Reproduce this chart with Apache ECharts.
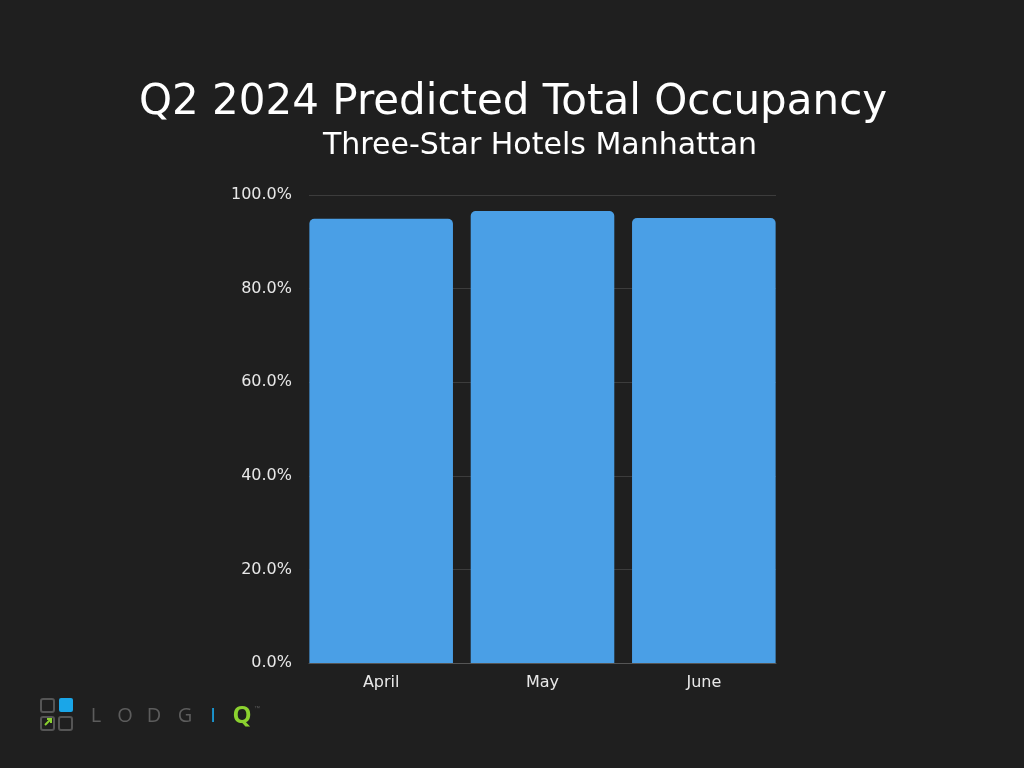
<!DOCTYPE html>
<html><head><meta charset="utf-8">
<script src="https://cdn.jsdelivr.net/npm/echarts@6/dist/echarts.min.js"></script>
<style>html,body{margin:0;padding:0;background:#1f1f1f;}#c{width:1024px;height:768px;}</style>
</head><body><div id="c"></div>
<script>
const categories = ['April', 'May', 'June'];
const occupancy = [94.9, 96.6, 95.1];
const yTicks = [0, 20, 40, 60, 80, 100];
const titleText = 'Q2 2024 Predicted Total Occupancy';
const subtitleText = 'Three-Star Hotels Manhattan';
const logoLetters = ['L', 'O', 'D', 'G', 'I', 'Q'];

const chart = echarts.init(document.getElementById('c'));
const font = '"DejaVu Sans", "Open Sans", sans-serif';
const logoX = [96, 125, 154, 185, 213, 242];
const logoColors = ['#5c5c5c', '#5c5c5c', '#5c5c5c', '#5c5c5c', '#1aa6e8', '#8bd12f'];
chart.setOption({
  backgroundColor: '#1f1f1f',
  animation: false,
  title: [
    { text: titleText, left: 508, textAlign: 'center', top: 77, textStyle: { color: '#ffffff', fontSize: 42, fontWeight: 'normal', fontFamily: font } },
    { text: subtitleText, left: 535, textAlign: 'center', top: 126, textStyle: { color: '#ffffff', fontSize: 30, fontWeight: 'normal', fontFamily: font } }
  ],
  grid: [
    { left: 309, right: 248, top: 195, bottom: 105 },
    { left: 300.5, right: 239.5, top: 195, bottom: 105 }
  ],
  xAxis: [
    { type: 'category', gridIndex: 0, data: categories, z: 5,
      axisLine: { lineStyle: { color: '#555555', width: 1 } }, axisTick: { show: false }, axisLabel: { show: false } },
    { type: 'category', gridIndex: 1, data: categories, barCategoryGap: '11%',
      axisLine: { show: false }, axisTick: { show: false },
      axisLabel: { color: '#e8e8e8', fontSize: 16, fontFamily: font, margin: 12 } }
  ],
  yAxis: [
    { type: 'value', gridIndex: 0, min: 0, max: 100, interval: 20,
      axisLine: { show: false }, axisTick: { show: false },
      splitLine: { lineStyle: { color: '#3c3c3c', width: 1 } },
      axisLabel: { color: '#e8e8e8', fontSize: 16, fontFamily: font, margin: 17,
        formatter: v => yTicks.includes(v) ? v.toFixed(1) + '%' : '' } },
    { type: 'value', gridIndex: 1, min: 0, max: 100, interval: 20, show: false, splitLine: { show: false } }
  ],
  series: [{
    type: 'bar', xAxisIndex: 1, yAxisIndex: 1, data: occupancy, barCategoryGap: '11%',
    itemStyle: { color: '#4a9fe6', borderRadius: [5, 5, 0, 0] }
  }],
  graphic: [
    { type: 'rect', shape: { x: 41, y: 699, width: 13, height: 13, r: 2 }, style: { fill: 'none', stroke: '#555555', lineWidth: 2 } },
    { type: 'rect', shape: { x: 59, y: 698, width: 14, height: 14, r: 2 }, style: { fill: '#1aa6e8' } },
    { type: 'rect', shape: { x: 41, y: 717, width: 13, height: 13, r: 2 }, style: { fill: 'none', stroke: '#555555', lineWidth: 2 } },
    { type: 'rect', shape: { x: 59, y: 717, width: 13, height: 13, r: 2 }, style: { fill: 'none', stroke: '#555555', lineWidth: 2 } },
    { type: 'polyline', shape: { points: [[45, 725], [51, 719]] }, style: { stroke: '#8bd12f', lineWidth: 2 } },
    { type: 'polyline', shape: { points: [[47, 719], [51, 719], [51, 723]] }, style: { stroke: '#8bd12f', lineWidth: 2, fill: 'none' } },
    ...logoLetters.map((ch, i) => ({
      type: 'text', x: logoX[i], y: 716,
      style: { text: ch, fill: logoColors[i], font: (i === 5 ? 'bold 24px ' : '20px ') + '"Open Sans", sans-serif', align: 'center', verticalAlign: 'middle' }
    })),
    { type: 'text', x: 254, y: 705, style: { text: '™', fill: '#5c5c5c', font: '6px sans-serif' } }
  ]
});
</script></body></html>
